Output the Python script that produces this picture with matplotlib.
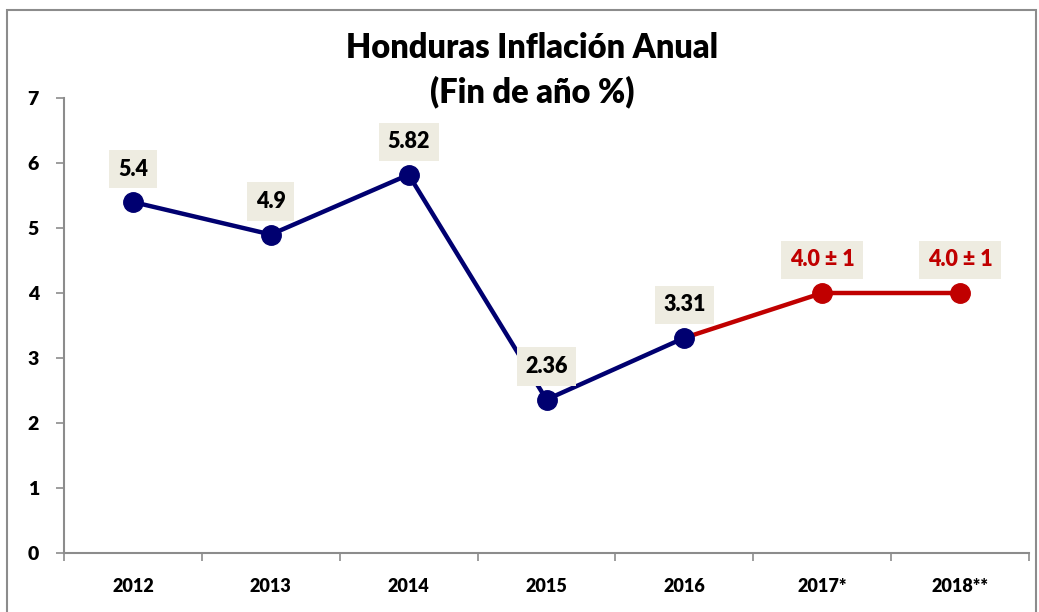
import matplotlib
matplotlib.use("Agg")
import matplotlib.pyplot as plt
from matplotlib.patches import Rectangle

categories = ["2012", "2013", "2014", "2015", "2016", "2017*", "2018**"]
actual = [5.4, 4.9, 5.82, 2.36, 3.31]
forecast = [3.31, 4.0, 4.0]
actual_labels = ["5.4", "4.9", "5.82", "2.36", "3.31"]
forecast_labels = ["4.0 ± 1", "4.0 ± 1"]

plt.rcParams['font.family'] = ['Lato', 'DejaVu Sans']

navy = "#000070"
red = "#C00000"
grey = "#8C8C8C"
W = "heavy"

fig = plt.figure(figsize=(10.39, 6.12), dpi=100)
ax = fig.add_axes([64/1039, 1-553/612, (1029-64)/1039, (553-98)/612])

xa = list(range(len(actual)))
xf = list(range(len(actual)-1, len(actual)-1+len(forecast)))
ax.plot(xf, forecast, color=red, lw=3.2, zorder=2)
ax.plot(xf[1:], forecast[1:], 'o', color=red, ms=14, zorder=3)
ax.plot(xa, actual, color=navy, lw=3.2, marker='o', ms=14, zorder=4)

box = dict(boxstyle="square,pad=0.4", fc="#EEECE1", ec="none")
for x, v, t in zip(xa, actual, actual_labels):
    ax.annotate(t, (x, v), xytext=(0, 33), textcoords="offset pixels",
                ha="center", va="center", fontsize=15.5, fontweight=W, color="black",
                bbox=box, zorder=5)
for x, v, t in zip(xf[1:], forecast[1:], forecast_labels):
    ax.annotate(t, (x, v), xytext=(0, 33), textcoords="offset pixels",
                ha="center", va="center", fontsize=15.5, fontweight=W, color=red,
                bbox=box, zorder=5)

ax.set_xlim(-0.5, len(categories)-0.5)
ax.set_ylim(0, 7)
ax.set_yticks(range(0, 8))
ax.set_yticklabels([str(i) for i in range(0, 8)], fontsize=14, fontweight=W)
ax.set_xticks(range(len(categories)))
ax.set_xticklabels(categories, fontsize=13, fontweight=W)
ax.set_xticks([i - 0.5 for i in range(len(categories)+1)], minor=True)
ax.tick_params(axis='x', which='major', length=0, pad=18)
ax.tick_params(axis='x', which='minor', length=6, color=grey, width=1.2)
ax.tick_params(axis='y', length=6, color=grey, width=1.2, pad=12)
for s in ["top", "right"]:
    ax.spines[s].set_visible(False)
for s in ["left", "bottom"]:
    ax.spines[s].set_color(grey)
    ax.spines[s].set_linewidth(1.5)

fig.text(532/1039, 1-70/612, "Honduras Inflación Anual\n(Fin de año %)", ha="center", va="center",
         fontsize=23.5, fontweight=W, linespacing=1.45)

fig.patches.append(Rectangle((7/1039, -0.05), (1036-7)/1039, 1-10/612+0.05,
                             transform=fig.transFigure, fill=False, ec=grey, lw=1.5))

fig.savefig("out.png", dpi=100)
